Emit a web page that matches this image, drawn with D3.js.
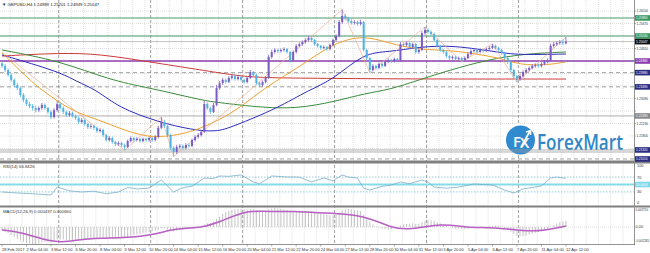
<!DOCTYPE html>
<html><head><meta charset="utf-8">
<script src="https://cdn.jsdelivr.net/npm/d3@7"></script>
<style>body{margin:0;background:#fff}svg{display:block;font-family:Arial,"Liberation Sans",sans-serif}</style>
</head><body><svg id="c" width="650" height="253"></svg>
<script>
// ---------- DATA ----------
const closes=[1.2421,1.2407,1.2390,1.2373,1.2355,1.2345,1.2321,1.2304,1.2290,1.2283,
1.2276,1.2269,1.2276,1.2287,1.2276,1.2263,1.2245,1.2269,1.2290,1.2276,
1.2263,1.2252,1.2259,1.2249,1.2242,1.2228,1.2235,1.2221,1.2211,1.2214,
1.2208,1.2197,1.2201,1.2183,1.2166,1.2173,1.2159,1.2152,1.2156,1.2149,
1.2142,1.2163,1.2173,1.2166,1.2170,1.2163,1.2170,1.2166,1.2173,1.2166,
1.2177,1.2208,1.2228,1.2214,1.2183,1.2139,1.2125,1.2142,1.2146,1.2139,
1.2149,1.2146,1.2166,1.2177,1.2183,1.2194,1.2290,1.2276,1.2263,1.2287,
1.2345,1.2362,1.2373,1.2366,1.2380,1.2386,1.2376,1.2383,1.2373,1.2366,
1.2380,1.2400,1.2390,1.2362,1.2355,1.2366,1.2380,1.2452,1.2469,1.2476,
1.2472,1.2476,1.2479,1.2469,1.2441,1.2469,1.2490,1.2496,1.2503,1.2510,
1.2517,1.2510,1.2496,1.2490,1.2483,1.2486,1.2479,1.2493,1.2510,1.2524,
1.2572,1.2593,1.2586,1.2576,1.2569,1.2572,1.2565,1.2572,1.2476,1.2448,
1.2407,1.2421,1.2414,1.2428,1.2421,1.2435,1.2441,1.2438,1.2445,1.2441,
1.2496,1.2493,1.2500,1.2486,1.2496,1.2469,1.2476,1.2534,1.2545,1.2538,
1.2531,1.2510,1.2490,1.2476,1.2469,1.2455,1.2448,1.2452,1.2445,1.2448,
1.2441,1.2448,1.2462,1.2472,1.2476,1.2469,1.2476,1.2472,1.2479,1.2483,
1.2490,1.2483,1.2476,1.2466,1.2448,1.2435,1.2407,1.2386,1.2376,1.2386,
1.2400,1.2407,1.2414,1.2421,1.2424,1.2421,1.2428,1.2435,1.2441,1.2490,
1.2496,1.2500,1.2503,1.24989,1.25047];
const opens=[1.2430,1.2421,1.2407,1.2390,1.2373,1.2355,1.2345,1.2321,1.2304,1.2290,
1.2283,1.2276,1.2269,1.2276,1.2287,1.2276,1.2263,1.2245,1.2269,1.2290,
1.2276,1.2263,1.2252,1.2259,1.2249,1.2242,1.2228,1.2235,1.2221,1.2211,
1.2214,1.2208,1.2197,1.2201,1.2183,1.2166,1.2173,1.2159,1.2152,1.2156,
1.2149,1.2142,1.2163,1.2173,1.2166,1.2170,1.2163,1.2170,1.2166,1.2173,
1.2166,1.2177,1.2208,1.2228,1.2214,1.2183,1.2139,1.2125,1.2142,1.2146,
1.2139,1.2149,1.2146,1.2166,1.2177,1.2183,1.2194,1.2290,1.2276,1.2263,
1.2287,1.2345,1.2362,1.2373,1.2366,1.2380,1.2386,1.2376,1.2383,1.2373,
1.2366,1.2380,1.2400,1.2390,1.2362,1.2355,1.2366,1.2380,1.2452,1.2469,
1.2476,1.2472,1.2476,1.2479,1.2469,1.2441,1.2469,1.2490,1.2496,1.2503,
1.2510,1.2517,1.2510,1.2496,1.2490,1.2483,1.2486,1.2479,1.2493,1.2510,
1.2524,1.2572,1.2593,1.2586,1.2576,1.2569,1.2572,1.2565,1.2572,1.2476,
1.2448,1.2407,1.2421,1.2414,1.2428,1.2421,1.2435,1.2441,1.2438,1.2445,
1.2441,1.2496,1.2493,1.2500,1.2486,1.2496,1.2469,1.2476,1.2534,1.2545,
1.2538,1.2531,1.2510,1.2490,1.2476,1.2469,1.2455,1.2448,1.2452,1.2445,
1.2448,1.2441,1.2448,1.2462,1.2472,1.2476,1.2469,1.2476,1.2472,1.2479,
1.2483,1.2490,1.2483,1.2476,1.2466,1.2448,1.2435,1.2407,1.2386,1.2376,
1.2386,1.2400,1.2407,1.2414,1.2421,1.2424,1.2421,1.2428,1.2435,1.2441,
1.2490,1.2496,1.2500,1.2503,1.24989];
const highs=[1.2438,1.2428,1.2412,1.2396,1.2378,1.2362,1.2350,1.2328,1.2310,1.2298,
1.2290,1.2284,1.2282,1.2294,1.2292,1.2280,1.2268,1.2276,1.2301,1.2296,
1.2282,1.2268,1.2266,1.2264,1.2254,1.2247,1.2242,1.2240,1.2226,1.2221,
1.2219,1.2212,1.2208,1.2205,1.2188,1.2180,1.2178,1.2164,1.2162,1.2160,
1.2154,1.2168,1.2179,1.2177,1.2176,1.2174,1.2175,1.2174,1.2178,1.2177,
1.2183,1.2215,1.2245,1.2236,1.2219,1.2188,1.2145,1.2150,1.2153,1.2151,
1.2155,1.2154,1.2171,1.2183,1.2190,1.2199,1.2301,1.2296,1.2281,1.2294,
1.2356,1.2370,1.2380,1.2378,1.2386,1.2393,1.2390,1.2389,1.2387,1.2378,
1.2385,1.2407,1.2404,1.2394,1.2367,1.2371,1.2386,1.2460,1.2477,1.2482,
1.2480,1.2481,1.2485,1.2483,1.2473,1.2474,1.2496,1.2502,1.2509,1.2516,
1.2524,1.2522,1.2514,1.2500,1.2494,1.2492,1.2490,1.2498,1.2516,1.2530,
1.2580,1.2615,1.2600,1.2590,1.2581,1.2578,1.2577,1.2580,1.2576,1.2480,
1.2452,1.2427,1.2425,1.2433,1.2432,1.2440,1.2447,1.2445,1.2450,1.2449,
1.2503,1.2502,1.2506,1.2504,1.2501,1.2500,1.2482,1.2541,1.2555,1.2550,
1.2543,1.2535,1.2514,1.2494,1.2480,1.2473,1.2459,1.2457,1.2456,1.2453,
1.2452,1.2454,1.2468,1.2478,1.2482,1.2480,1.2481,1.2480,1.2484,1.2489,
1.2497,1.2494,1.2487,1.2480,1.2470,1.2452,1.2439,1.2411,1.2390,1.2392,
1.2406,1.2413,1.2420,1.2427,1.2430,1.2429,1.2434,1.2441,1.2447,1.2498,
1.2503,1.2506,1.2510,1.2512,1.25201];
const lows=[1.2414,1.2400,1.2384,1.2366,1.2348,1.2338,1.2314,1.2296,1.2283,1.2276,
1.2268,1.2261,1.2262,1.2270,1.2270,1.2256,1.2238,1.2240,1.2264,1.2270,
1.2256,1.2246,1.2247,1.2243,1.2235,1.2221,1.2223,1.2214,1.2204,1.2205,
1.2201,1.2190,1.2192,1.2176,1.2160,1.2161,1.2153,1.2145,1.2146,1.2142,
1.2131,1.2138,1.2158,1.2160,1.2161,1.2157,1.2158,1.2160,1.2161,1.2160,
1.2162,1.2172,1.2203,1.2208,1.2176,1.2132,1.2109,1.2118,1.2136,1.2133,
1.2134,1.2140,1.2141,1.2161,1.2171,1.2178,1.2190,1.2270,1.2256,1.2259,
1.2282,1.2338,1.2356,1.2360,1.2362,1.2374,1.2370,1.2371,1.2367,1.2360,
1.2361,1.2376,1.2384,1.2356,1.2348,1.2350,1.2361,1.2376,1.2446,1.2463,
1.2466,1.2467,1.2470,1.2463,1.2433,1.2437,1.2464,1.2485,1.2490,1.2498,
1.2505,1.2504,1.2490,1.2484,1.2477,1.2478,1.2473,1.2475,1.2488,1.2505,
1.2519,1.2566,1.2579,1.2570,1.2563,1.2563,1.2559,1.2560,1.2470,1.2440,
1.2398,1.2402,1.2408,1.2410,1.2415,1.2417,1.2430,1.2432,1.2433,1.2436,
1.2437,1.2487,1.2488,1.2480,1.2481,1.2462,1.2463,1.2472,1.2528,1.2532,
1.2525,1.2504,1.2484,1.2470,1.2463,1.2449,1.2442,1.2443,1.2439,1.2440,
1.2436,1.2437,1.2444,1.2457,1.2467,1.2463,1.2464,1.2467,1.2468,1.2475,
1.2478,1.2478,1.2470,1.2460,1.2442,1.2428,1.2400,1.2378,1.2365,1.2370,
1.2381,1.2395,1.2402,1.2409,1.2415,1.2415,1.2416,1.2423,1.2430,1.2436,
1.2484,1.2490,1.2494,1.2493,1.24949];

// moving averages read at sample bars: [bar, price]
const maRed=[[0,1.2455],[19,1.2466],[32,1.2462],[48,1.2435],[65,1.2407],[71,1.2397],[78,1.2386],[86,1.2380],[108,1.2378],[136,1.2376],[162,1.2376],[184,1.2376]];
const maGreen=[[0,1.2476],[19,1.2438],[35,1.2373],[48,1.2345],[54,1.2331],[65,1.2304],[69,1.2297],[86,1.2276],[97,1.2276],[108,1.2297],[119,1.2328],[126,1.2338],[136,1.2373],[162,1.2459],[184,1.2469]];
const maBlue=[[0,1.2459],[19,1.2400],[24,1.2369],[31,1.2338],[38,1.2278],[51,1.2228],[62,1.2201],[70,1.2194],[75,1.2211],[90,1.2276],[100,1.2338],[108,1.2373],[118,1.2466],[126,1.2469],[136,1.2486],[147,1.2493],[163,1.2466],[169,1.2459],[184,1.2462]];
const maOrange=[[0,1.2466],[9,1.2373],[13,1.2338],[23,1.2263],[32,1.2235],[45,1.2177],[54,1.2177],[62,1.2194],[71,1.2235],[78,1.2280],[86,1.2348],[97,1.2417],[108,1.2500],[118,1.2527],[126,1.2500],[136,1.2476],[147,1.2476],[163,1.2448],[169,1.2424],[178,1.2424],[184,1.2435]];
const zigzag=[[0,1.2469],[40,1.2131],[52,1.2245],[56,1.2109],[111,1.2615],[120,1.2398],[138,1.2555],[150,1.2436],[160,1.2497],[168,1.2365],[184,1.25201]];

// horizontal level objects (prices)
const levelPrices=[1.2586,1.2524,1.25047,1.2438,1.2398,1.2349,1.2249,1.2132,1.2125,1.2101];
const levelLabels=["1.25860","1.25240","1.25047","1.24380","1.23980","1.23490","1.22490","1.21320","","1.21010"];

// price axis ticks
const priceTicks=[1.26100,1.25670,1.25240,1.24810,1.24380,1.23950,1.23520,1.23090,1.22660,1.22230,1.21800,1.21370];

// RSI(14) read at sample bars
const rsi=[[0,29.7],[5,27],[10,25],[16,21.6],[18,43.2],[22,33],[26,29.7],[30,32],[34,25],[38,29.7],[41,42],[44,38],[48,40.5],[52,62.2],[56,29.7],[58,38],[60,43.2],[62,45],[66,67.6],[69,66],[71,73],[74,72],[78,75.7],[82,56.8],[84,52],[86,62.2],[88,73],[93,70.3],[97,70],[101,56.8],[105,67.6],[108,60],[111,75.7],[113,70],[116,67.6],[118,40],[120,35.1],[124,45],[127,48.6],[130,56.8],[133,52],[137,62.2],[139,56.8],[141,43.2],[145,40],[149,43.2],[154,51.4],[157,50],[160,48.6],[164,35.1],[167,27],[170,38],[172,40.5],[176,46],[179,67.6],[181,70],[184,66.8]];
const rsiLevels=[70,30];
const rsiTicks=[100,70,30,0];

// MACD main (histogram) per bar, units of 0.00001
const macdMain=[-60,-80,-100,-130,-160,-190,-220,
-240,-260,-270,-280,-280,-270,-250,-240,-240,
-250,-230,-200,-200,-200,-210,-210,
-210,-210,-215,-210,-205,-200,-195,-190,
-190,-185,-190,-195,-190,-190,-185,-180,-180,-180,
-160,-140,-130,-120,-110,-100,-90,-80,-70,-60,
-40,-20,-20,-40,-60,-70,-60,-50,-45,-40,
-35,-25,-15,-5,0,40,60,70,90,130,
170,210,240,260,275,285,290,290,285,285,
290,285,275,265,260,260,285,300,305,300,
295,285,275,255,255,260,265,265,265,262,
255,245,230,215,205,195,190,192,200,235,
270,285,290,285,275,265,258,200,140,80,
40,10,-10,-25,-35,-40,-45,-20,-10,20,
40,50,55,60,50,55,80,100,110,110,
100,80,60,40,20,0,-15,-25,-30,-35,
-35,-30,-20,-10,-5,0,5,10,15,20,
20,15,5,-15,-40,-75,-110,-140,-150,-150,
-140,-125,-110,-95,-80,-70,-55,-40,0,30,
55,75,90,100];
// MACD signal read at sample bars (0.00001)
const macdSignal=[[0,-49],[6,-81],[16,-243],[21,-243],[29,-178],[38,-178],[48,-146],[57,-16],[65,-16],[71,81],[80,275],[87,243],[95,259],[105,226],[118,194],[127,-16],[133,-49],[144,65],[151,-16],[162,0],[173,-97],[184,16]];
const macdTicks=[275,0,-226.5];
const macdTickLabels=["0.002750","0.00","-0.002265"];

// time axis labels every 8 bars
const timeLabels=["28 Feb 2017","2 Mar 04:00","3 Mar 12:00","6 Mar 20:00","8 Mar 04:00","9 Mar 12:00","10 Mar 20:00","14 Mar 04:00","15 Mar 12:00","16 Mar 20:00","20 Mar 04:00","21 Mar 12:00","22 Mar 20:00","24 Mar 04:00","27 Mar 12:00","28 Mar 20:00","30 Mar 04:00","31 Mar 12:00","3 Apr 20:00","5 Apr 04:00","6 Apr 12:00","7 Apr 20:00","11 Apr 04:00","12 Apr 12:00"];
const weekEnds=[18,48,78,108,138,168];

// ---------- DRAW ----------
const svg=d3.select("#c");
const R=634;
const x=d3.scaleLinear().domain([0,184]).range([2,2+184*3.065]);
const y=d3.scaleLinear().domain([priceTicks[0],priceTicks[11]]).range([11,148.5]);
const yR=d3.scaleLinear().domain([0,100]).range([203,166]);
const yM=d3.scaleLinear().domain([0,275]).range([227,210]);

const defs=svg.append("defs");
[["cm",0,0,R,160.5],["cr",0,163.5,R,42],["cmac",0,207.5,R,37]].forEach(([id,a,b,w,h])=>{
  defs.append("clipPath").attr("id",id).append("rect").attr("x",a).attr("y",b).attr("width",w).attr("height",h);
});

svg.append("rect").attr("width",650).attr("height",253).attr("fill","#fff");

// grids
const grid=svg.append("g");
const gridBars=d3.range(0,52).map(k=>2.6+4*k);
[[0,160.5],[163.5,205.5],[207.5,244.5]].forEach(([a,b])=>{
  grid.selectAll(null).data(gridBars.filter(v=>x(v)<R)).enter().append("line")
   .attr("x1",d=>x(d)).attr("x2",d=>x(d)).attr("y1",a).attr("y2",b)
   .attr("stroke","#d4d4d4").attr("stroke-width",0.7).attr("stroke-dasharray","1,1");
});
grid.selectAll(null).data(priceTicks).enter().append("line")
 .attr("x1",0).attr("x2",R).attr("y1",d=>y(d)).attr("y2",d=>y(d))
 .attr("stroke","#d4d4d4").attr("stroke-width",0.7).attr("stroke-dasharray","1,1");

// week separators
svg.append("g").selectAll("line").data(weekEnds).enter().append("line")
 .attr("x1",d=>x(d+0.5)).attr("x2",d=>x(d+0.5)).attr("y1",0).attr("y2",244.5)
 .attr("stroke","#8a8a8a").attr("stroke-width",0.8).attr("stroke-dasharray","3,2");

// logo
const logo=svg.append("g");
logo.append("rect").attr("x",503).attr("y",124).attr("width",124).attr("height",25).attr("fill","#fff");
logo.append("circle").attr("cx",520.5).attr("cy",140).attr("r",14.5).attr("fill","#2f8ad0");
logo.append("text").attr("x",513).attr("y",147).attr("font-size",15).attr("font-family","Open Sans,Arial").attr("font-weight",600).attr("fill","#fff").text("F");
logo.append("text").attr("x",520).attr("y",148).attr("font-size",15).attr("font-family","Open Sans,Arial").attr("font-weight",600).attr("fill","#fff").text("X");
logo.append("path").attr("d","M521,147 L530,131 M526,132 L530.5,130.5 L530.5,135").attr("stroke","#fff").attr("stroke-width",1.6).attr("fill","none");
const brand=logo.append("text").attr("x",0).attr("y",0).attr("font-size",21).attr("font-family","Open Sans,Arial").attr("font-weight",600)
 .attr("fill","#2f86c8").text("ForexMart");
const bw=brand.node().getComputedTextLength();
brand.attr("transform",`translate(537,149.5) scale(${86/bw},1)`);

// main panel contents
const main=svg.append("g").attr("clip-path","url(#cm)");
const lvlStyle=[
 {c:"#4f9a6e",w:1.1,d:null},{c:"#4f9a6e",w:1.1,d:null},{c:"#a8a8a8",w:0.7,d:null},{c:"#8e3fae",w:1.4,d:null},
 {c:"#8a8a8a",w:0.8,d:"4,3"},{c:"#8a8a8a",w:0.8,d:"4,3"},{c:"#9a9a9a",w:0.8,d:null},{c:"#9a9a9a",w:0.8,d:null},
 {c:"#9a9a9a",w:0.8,d:null},{c:"#8a8a8a",w:0.8,d:"4,3"}];
levelPrices.forEach((p,i)=>{
  main.append("line").attr("x1",0).attr("x2",R).attr("y1",y(p)).attr("y2",y(p))
   .attr("stroke",lvlStyle[i].c).attr("stroke-width",lvlStyle[i].w).attr("stroke-dasharray",lvlStyle[i].d);
});

const lineGen=d3.line().x(d=>x(d[0])).y(d=>y(d[1])).curve(d3.curveBasis);
[[maRed,"#cc3a3a"],[maGreen,"#3a8a3a"],[maBlue,"#2b2bc0"],[maOrange,"#f0a030"]].forEach(([d,c])=>{
  main.append("path").attr("d",lineGen(d)).attr("fill","none").attr("stroke",c).attr("stroke-width",1);
});
main.append("path").attr("d",d3.line().x(d=>x(d[0])).y(d=>y(d[1]))(zigzag))
 .attr("fill","none").attr("stroke","#eeb090").attr("stroke-width",0.7);

const bull="#7a5cc4", bear="#4fb2e2";
const bars=d3.range(closes.length);
const cg=main.append("g");
cg.selectAll("line").data(bars).enter().append("line")
 .attr("x1",i=>x(i)).attr("x2",i=>x(i)).attr("y1",i=>y(highs[i])).attr("y2",i=>y(lows[i]))
 .attr("stroke",i=>closes[i]>=opens[i]?bull:bear).attr("stroke-width",0.8);
cg.selectAll("rect").data(bars).enter().append("rect")
 .attr("x",i=>x(i)-1).attr("width",2)
 .attr("y",i=>y(Math.max(opens[i],closes[i])))
 .attr("height",i=>Math.max(0.8,Math.abs(y(opens[i])-y(closes[i]))))
 .attr("fill",i=>closes[i]>=opens[i]?bull:bear);

// title
svg.append("text").attr("x",2).attr("y",6).attr("font-size",4.3).attr("fill","#222")
 .text("\u25BC GBPUSD,H4  1.24989 1.25201 1.24949 1.25047");

// RSI panel
const rg=svg.append("g").attr("clip-path","url(#cr)");
rg.selectAll("line.l").data(rsiLevels).enter().append("line")
 .attr("x1",0).attr("x2",R).attr("y1",d=>yR(d)).attr("y2",d=>yR(d))
 .attr("stroke","#6fb8d0").attr("stroke-width",0.7).attr("stroke-dasharray","1.5,1.5");
rg.append("line").attr("x1",0).attr("x2",R).attr("y1",yR(50)).attr("y2",yR(50)).attr("stroke","#86dbe8").attr("stroke-width",1.8);
rg.append("path").attr("d",d3.line().x(d=>x(d[0])).y(d=>yR(d[1]))(rsi)).attr("fill","none").attr("stroke","#7aaec8").attr("stroke-width",0.8);
svg.append("text").attr("x",3).attr("y",168).attr("font-size",4.3).attr("fill","#333").text("RSI(14) 66.8426");

// MACD panel
const mg=svg.append("g").attr("clip-path","url(#cmac)");
mg.append("line").attr("x1",0).attr("x2",R).attr("y1",yM(0)).attr("y2",yM(0)).attr("stroke","#c8c8c8").attr("stroke-width",0.6).attr("stroke-dasharray","1,1");
mg.selectAll("line.h").data(bars).enter().append("line")
 .attr("x1",i=>x(i)).attr("x2",i=>x(i)).attr("y1",yM(0)).attr("y2",i=>yM(macdMain[i]))
 .attr("stroke","#b4b4b4").attr("stroke-width",0.8);
mg.append("path").attr("d",d3.line().x(d=>x(d[0])).y(d=>yM(d[1])).curve(d3.curveBasis)(macdSignal))
 .attr("fill","none").attr("stroke","#b75fc2").attr("stroke-width",1.5);
svg.append("text").attr("x",3).attr("y",213).attr("font-size",4.3).attr("fill","#333").text("MACD(12,26,9) 0.000437 0.000660");

// panel separators & frames
svg.append("rect").attr("x",0).attr("y",160.5).attr("width",R).attr("height",3).attr("fill","#808080");
svg.append("rect").attr("x",0).attr("y",205.5).attr("width",R).attr("height",2).attr("fill","#808080");
svg.append("line").attr("x1",0).attr("x2",R+1).attr("y1",244.5).attr("y2",244.5).attr("stroke","#777").attr("stroke-width",0.8);
svg.append("line").attr("x1",R+0.5).attr("x2",R+0.5).attr("y1",0).attr("y2",245).attr("stroke","#777").attr("stroke-width",0.8);
svg.append("rect").attr("x",R+1).attr("y",160.5).attr("width",16).attr("height",3).attr("fill","#808080");
svg.append("rect").attr("x",R+1).attr("y",205.5).attr("width",16).attr("height",2).attr("fill","#808080");

// price axis (labels fitted inside the 15px strip)
const ax=svg.append("g").attr("font-size",3.9).attr("fill","#333");
const boxCol=["#3f9a62","#3f9a62","#111","#8e3fae","#2c2c80","#2c2c80","#8a8a8a","#2c2c80",null,"#2c2c80"];
const boxYs=levelPrices.filter((p,i)=>boxCol[i]).map(p=>y(p));
const freeTicks=priceTicks.filter(t=>boxYs.every(b=>Math.abs(b-y(t))>5.5));
ax.selectAll("text.t").data(freeTicks).enter().append("text")
 .attr("x",R+2.5).attr("y",d=>y(d)+1.4).attr("textLength",11.5).attr("lengthAdjust","spacingAndGlyphs").text(d=>d.toFixed(5));
ax.selectAll("line.t").data(priceTicks).enter().append("line")
 .attr("x1",R).attr("x2",R+2).attr("y1",d=>y(d)).attr("y2",d=>y(d)).attr("stroke","#777").attr("stroke-width",0.6);
levelPrices.forEach((p,i)=>{
  if(!boxCol[i]) return;
  ax.append("rect").attr("x",R+1).attr("y",y(p)-2.8).attr("width",15).attr("height",5.6).attr("fill",boxCol[i]);
  ax.append("text").attr("x",R+2).attr("y",y(p)+1.4).attr("fill","#fff").attr("textLength",11.5).attr("lengthAdjust","spacingAndGlyphs").text(levelLabels[i]);
});
// RSI axis
ax.selectAll("text.r").data(rsiTicks).enter().append("text")
 .attr("x",R+3).attr("y",d=>yR(d)+1.4).text(d=>d);
ax.append("rect").attr("x",R+1).attr("y",yR(50)-2.8).attr("width",15).attr("height",5.6).attr("fill","#7fd8e8");
ax.append("text").attr("x",R+2).attr("y",yR(50)+1.4).attr("fill","#fff").attr("textLength",11.5).attr("lengthAdjust","spacingAndGlyphs").text("50.0000");
// MACD axis
ax.selectAll("text.m").data(macdTicks).enter().append("text")
 .attr("x",R+1.5).attr("y",d=>yM(d)+1.3)
 .attr("font-size",(d,i)=>macdTickLabels[i].length>5?3.05:3.9)
 .text((d,i)=>macdTickLabels[i]);

// time axis
const tx=svg.append("g").attr("font-size",4).attr("fill","#333");
tx.selectAll("text").data(timeLabels).enter().append("text")
 .attr("x",(d,i)=>x(i*8)).attr("y",250.5).text(d=>d);
tx.selectAll("line").data(timeLabels).enter().append("line")
 .attr("x1",(d,i)=>x(i*8)).attr("x2",(d,i)=>x(i*8)).attr("y1",244.5).attr("y2",246.5).attr("stroke","#777").attr("stroke-width",0.6);
</script></body></html>
